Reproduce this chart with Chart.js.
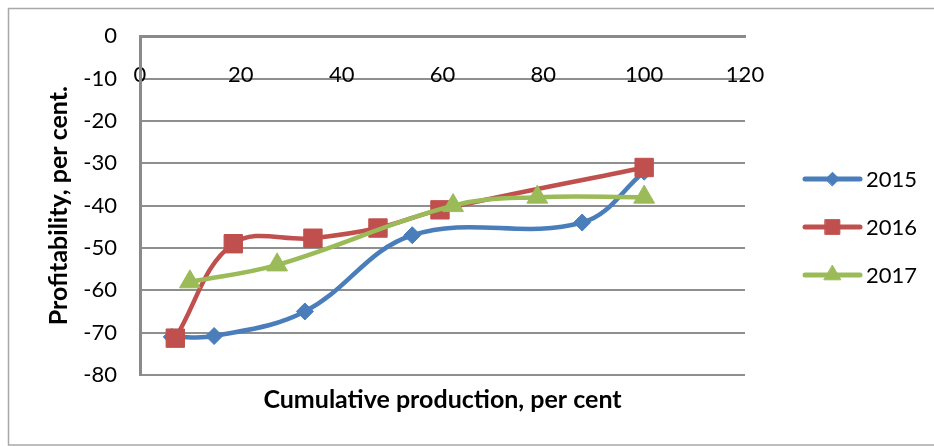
<!DOCTYPE html>
<html>
<head>
<meta charset="utf-8">
<script src="https://cdn.jsdelivr.net/npm/chart.js"></script>
<style>
  html, body { margin: 0; padding: 0; background: #fff; }
  #wrap { width: 934px; height: 446px; position: relative; }
</style>
</head>
<body>
<div id="wrap"><canvas id="chart" width="934" height="446"></canvas></div>
<script>
// Profitability against cumulative production, three years
const seriesNames = ['2015', '2016', '2017'];

const prod2015 = [6.3, 14.7, 32.7, 54.0, 87.7, 100];
const profit2015 = [-71.0, -70.8, -65.0, -47.0, -44.0, -32.0];

const prod2016 = [7.0, 18.5, 34.3, 47.2, 59.5, 100];
const profit2016 = [-71.3, -49.0, -47.7, -45.3, -41.0, -31.0];

const prod2017 = [9.9, 27.2, 62.1, 78.8, 100];
const profit2017 = [-58.0, -54.0, -40.0, -38.0, -38.0];

const xTicks = [0, 20, 40, 60, 80, 100, 120];
const yTicks = [0, -10, -20, -30, -40, -50, -60, -70, -80];

const FONT = 'Lato, "Open Sans", sans-serif';

function toPoints(xs, ys) {
  return xs.map((x, i) => ({ x: x, y: ys[i] }));
}

const styles = [
  { color: '#4A7EBB', pointStyle: 'rectRot', radius: 8.5 },
  { color: '#C0504D', pointStyle: 'rect', radius: 13 },
  { color: '#9BBB59', pointStyle: 'triangle', radius: 12 }
];

const seriesData = [
  toPoints(prod2015, profit2015),
  toPoints(prod2016, profit2016),
  toPoints(prod2017, profit2017)
];

const datasets = seriesNames.map((name, i) => ({
  label: name,
  data: seriesData[i],
  showLine: true,
  borderColor: styles[i].color,
  backgroundColor: styles[i].color,
  borderWidth: 4.5,
  tension: 0.38,
  pointStyle: styles[i].pointStyle,
  pointRadius: styles[i].radius,
  pointHoverRadius: styles[i].radius,
  pointBorderWidth: 1,
  pointBorderColor: styles[i].color,
  pointBackgroundColor: styles[i].color,
  order: seriesNames.length - i
}));

// White page and thin frame round the whole chart
const framePlugin = {
  id: 'frame',
  beforeDraw(chart) {
    const ctx = chart.ctx;
    ctx.save();
    ctx.fillStyle = '#ffffff';
    ctx.fillRect(0, 0, chart.width, chart.height);
    ctx.strokeStyle = '#a8a8a8';
    ctx.lineWidth = 1.5;
    ctx.strokeRect(8.5, 8.5, chart.width + 10, chart.height - 9.5);
    ctx.restore();
  }
};

// Legend on the right: line segment with the series marker, then the name
const sideLegend = {
  id: 'sideLegend',
  afterDraw(chart) {
    const ctx = chart.ctx;
    const x0 = 805, x1 = 860, textX = 866;
    const rowY = [179, 227, 275];
    chart.data.datasets.forEach((ds, i) => {
      const y = rowY[i];
      ctx.save();
      ctx.strokeStyle = ds.borderColor;
      ctx.lineWidth = 5;
      ctx.lineCap = 'round';
      ctx.beginPath();
      ctx.moveTo(x0, y);
      ctx.lineTo(x1, y);
      ctx.stroke();
      ctx.fillStyle = ds.pointBackgroundColor;
      ctx.strokeStyle = ds.pointBorderColor;
      ctx.lineWidth = 1;
      Chart.helpers.drawPoint(ctx, {
        pointStyle: ds.pointStyle,
        radius: ds.pointRadius * 0.8,
        rotation: 0,
        borderWidth: 1
      }, (x0 + x1) / 2, y);
      ctx.fillStyle = '#000000';
      ctx.font = '22px ' + FONT;
      ctx.textAlign = 'left';
      ctx.textBaseline = 'middle';
      ctx.fillText(ds.label, textX, y + 1);
      ctx.restore();
    });
  }
};

new Chart(document.getElementById('chart'), {
  type: 'scatter',
  data: { datasets: datasets },
  options: {
    responsive: false,
    animation: false,
    events: [],
    layout: { padding: { left: 8, top: 36, right: 189, bottom: 31 } },
    plugins: {
      legend: { display: false },
      tooltip: { enabled: false },
      title: {
        display: true,
        position: 'bottom',
        fullSize: false,
        text: 'Cumulative production, per cent',
        color: '#000000',
        font: { family: FONT, size: 25, weight: 'bold' },
        padding: { top: 10, bottom: 0 }
      }
    },
    scales: {
      x: {
        type: 'linear',
        position: { y: 0 },
        min: xTicks[0],
        max: xTicks[xTicks.length - 1],
        afterBuildTicks(scale) { scale.ticks = xTicks.map(v => ({ value: v })); },
        ticks: {
          color: '#000000',
          font: { family: FONT, size: 22 },
          padding: 26,
          maxRotation: 0,
          autoSkip: false
        },
        grid: { display: false, drawTicks: false },
        border: { display: true, color: '#8a8a8a', width: 3 }
      },
      y: {
        type: 'linear',
        position: 'left',
        min: yTicks[yTicks.length - 1],
        max: yTicks[0],
        afterBuildTicks(scale) { scale.ticks = yTicks.slice().reverse().map(v => ({ value: v })); },
        afterFit(scale) { scale.width = 132; },
        ticks: {
          color: '#000000',
          font: { family: FONT, size: 22 },
          padding: 23,
          autoSkip: false
        },
        grid: { color: '#8f8f8f', lineWidth: 2, drawTicks: false },
        border: { display: true, color: '#8a8a8a', width: 3 },
        title: {
          display: true,
          text: 'Profitability, per cent.',
          color: '#000000',
          font: { family: FONT, size: 25, weight: 'bold' },
          padding: { top: 36, bottom: 0 }
        }
      }
    }
  },
  plugins: [framePlugin, sideLegend]
});
</script>
</body>
</html>
